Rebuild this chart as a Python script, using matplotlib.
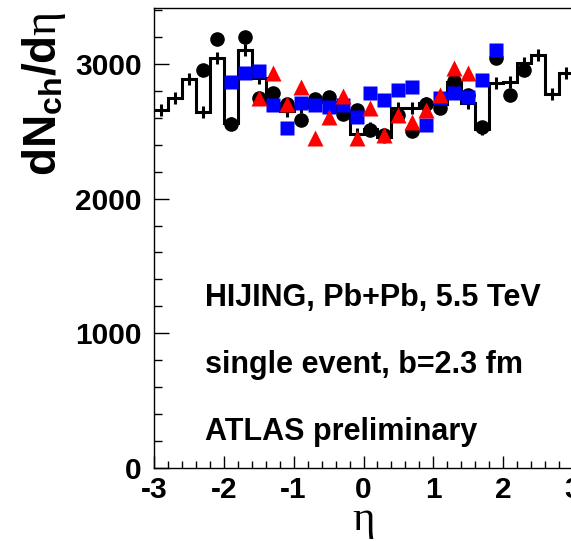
import numpy as np
import matplotlib
matplotlib.use("Agg")
import matplotlib.pyplot as plt
from matplotlib.ticker import MultipleLocator

# ---- data ----
hist_edges = np.round(np.arange(-3.0, 3.0001, 0.2), 2)
hist_values = [2658, 2749, 2885, 2641, 3046, 2560, 3103, 2895, 2710, 2650,
               2680, 2730, 2720, 2650, 2480, 2520, 2460, 2670, 2670, 2708,
               2700, 2866, 2708, 2520, 2860, 2868, 3004, 3066, 2775, 2930]
hist_err = [45] * 30

circ_eta = [-2.3, -2.1, -1.9, -1.7, -1.5, -1.3, -1.1, -0.9, -0.7, -0.5, -0.3, -0.1,
            0.1, 0.3, 0.5, 0.7, 0.9, 1.1, 1.3, 1.5, 1.7, 1.9, 2.1, 2.3]
circ_val = [2955, 3185, 2551, 3202, 2745, 2782, 2700, 2584, 2740, 2757, 2630, 2658,
            2510, 2475, 2620, 2500, 2705, 2670, 2870, 2770, 2530, 3041, 2769, 2955]

sq_eta = [-1.9, -1.7, -1.5, -1.3, -1.1, -0.9, -0.7, -0.5, -0.3, -0.1,
          0.1, 0.3, 0.5, 0.7, 0.9, 1.1, 1.3, 1.5, 1.7, 1.9]
sq_val = [2868, 2930, 2947, 2695, 2522, 2708, 2695, 2683, 2695, 2608,
          2782, 2732, 2806, 2831, 2546, 2745, 2782, 2757, 2880, 3103]

tri_eta = [-1.5, -1.3, -1.1, -0.9, -0.7, -0.5, -0.3, -0.1,
           0.1, 0.3, 0.5, 0.7, 0.9, 1.1, 1.3, 1.5]
tri_val = [2745, 2930, 2700, 2831, 2448, 2608, 2762, 2448,
           2670, 2472, 2620, 2571, 2658, 2769, 2967, 2930]

x_ticks = [-3, -2, -1, 0, 1, 2, 3]
y_ticks = [0, 1000, 2000, 3000]
annotations = ["HIJING, Pb+Pb, 5.5 TeV", "single event, b=2.3 fm", "ATLAS preliminary"]
annot_y = [1262, 765, 267]

# ---- style ----
plt.rcParams['font.family'] = ['Liberation Sans', 'DejaVu Sans']
plt.rcParams['axes.unicode_minus'] = False
plt.rcParams['mathtext.fontset'] = 'custom'
plt.rcParams['mathtext.bf'] = 'Liberation Sans:bold'
plt.rcParams['mathtext.rm'] = 'Liberation Serif'
plt.rcParams['mathtext.it'] = 'Liberation Serif:italic'

W, H = 571, 541
fig = plt.figure(figsize=(W / 100, H / 100), dpi=100)
ax = fig.add_axes([154 / W, (H - 468) / H, 419 / W, 460 / H])

centers = 0.5 * (hist_edges[:-1] + hist_edges[1:])
ax.stairs(hist_values, hist_edges, color='black', lw=2.2, zorder=2, baseline=None)
ax.errorbar(centers, hist_values, yerr=hist_err, fmt='none', ecolor='black',
            elinewidth=2.2, capsize=0, zorder=2)

ax.plot(circ_eta, circ_val, 'o', color='black', ms=10.5, mec='none', zorder=3)
ax.plot(sq_eta, sq_val, 's', color='#0000ff', ms=10.5, mec='none', zorder=4)
ax.plot(tri_eta, tri_val, '^', color='#ff0000', ms=11, mec='none', zorder=5)

ax.set_xlim(-3, 3)
ax.set_ylim(0, 3415)
ax.set_xticks(x_ticks)
ax.set_xticklabels([str(t) for t in x_ticks])
ax.set_yticks(y_ticks)
ax.set_yticklabels([str(t) for t in y_ticks])
ax.xaxis.set_minor_locator(MultipleLocator(0.2))
ax.yaxis.set_minor_locator(MultipleLocator(200))

ax.tick_params(axis='both', which='both', direction='in', width=1.0,
               top=False, right=False)
ax.tick_params(axis='x', which='major', length=9, pad=6)
ax.tick_params(axis='x', which='minor', length=5)
ax.tick_params(axis='y', which='major', length=11, pad=9)
ax.tick_params(axis='y', which='minor', length=6)
for lab in ax.get_xticklabels() + ax.get_yticklabels():
    lab.set_fontweight('bold')
    lab.set_fontsize(21.5)
for sp in ax.spines.values():
    sp.set_linewidth(1.0)

# y label placed at the top like the reference
fig.text(44 / W, 1 - 12 / H, r'$\mathbf{dN}_{\mathbf{ch}}\mathbf{/d}\mathrm{\eta}$',
         fontsize=33, rotation=90, ha='center', va='top')
ax.set_xlabel('η', family='Liberation Serif', fontsize=31, labelpad=-3)

for txt, yv in zip(annotations, annot_y):
    ax.text(-2.27, yv, txt, fontsize=22, fontweight='bold', ha='left', va='center')

fig.savefig('out.png', dpi=100)
